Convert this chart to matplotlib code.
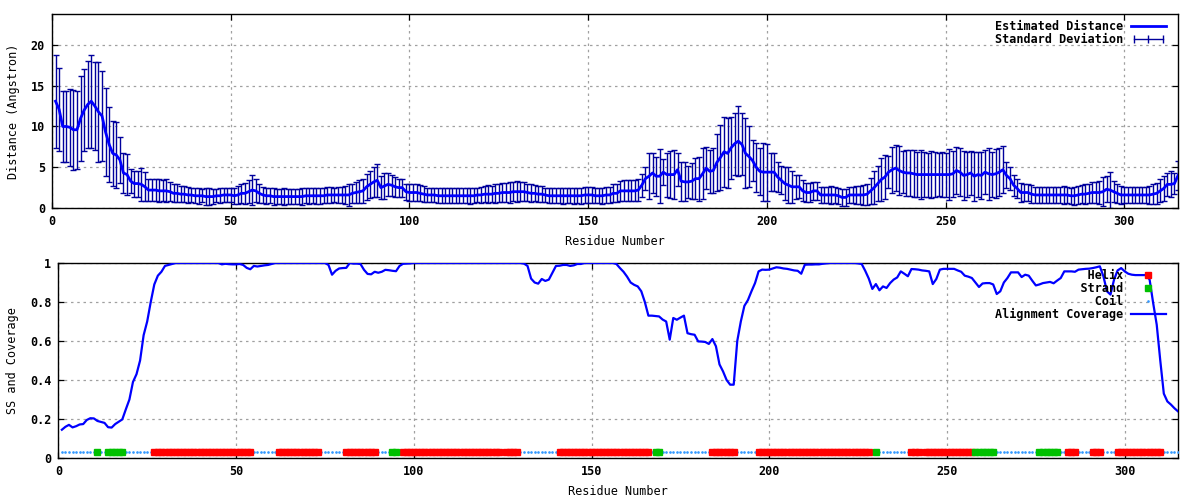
"""Distance estimate and secondary structure / alignment coverage per residue."""

import matplotlib
matplotlib.use("Agg")
import matplotlib.pyplot as plt
import numpy as np
from matplotlib.legend_handler import HandlerLine2D
from matplotlib.lines import Line2D
from matplotlib.ticker import FormatStrFormatter

# per-residue values, residues 1..315
distance = [
    13.1, 12.1, 10.0, 10.0, 9.9, 9.6, 9.6, 11.0, 12.0, 12.7,
    13.1, 12.5, 11.8, 11.3, 9.3, 7.8, 6.7, 6.5, 5.9, 4.3,
    4.1, 3.3, 3.0, 3.0, 2.9, 2.6, 2.2, 2.2, 2.2, 2.1,
    2.1, 2.1, 2.0, 1.8, 1.8, 1.7, 1.7, 1.6, 1.6, 1.5,
    1.5, 1.5, 1.4, 1.4, 1.4, 1.5, 1.5, 1.6, 1.6, 1.6,
    1.5, 1.6, 1.8, 1.8, 2.0, 2.2, 2.1, 1.8, 1.6, 1.5,
    1.5, 1.4, 1.4, 1.4, 1.4, 1.4, 1.4, 1.4, 1.4, 1.4,
    1.5, 1.5, 1.5, 1.5, 1.5, 1.5, 1.6, 1.6, 1.6, 1.6,
    1.6, 1.6, 1.6, 1.8, 1.9, 2.0, 2.1, 2.6, 2.9, 3.2,
    3.4, 2.5, 2.7, 2.9, 2.8, 2.6, 2.5, 2.5, 2.0, 1.9,
    1.9, 1.9, 1.8, 1.7, 1.6, 1.6, 1.6, 1.5, 1.5, 1.5,
    1.5, 1.5, 1.5, 1.5, 1.5, 1.5, 1.5, 1.5, 1.6, 1.6,
    1.7, 1.7, 1.7, 1.8, 1.8, 1.9, 1.9, 1.9, 2.0, 2.0,
    2.0, 2.0, 1.9, 1.8, 1.8, 1.7, 1.7, 1.6, 1.5, 1.5,
    1.5, 1.5, 1.5, 1.5, 1.5, 1.5, 1.5, 1.5, 1.6, 1.6,
    1.6, 1.5, 1.5, 1.5, 1.6, 1.6, 1.8, 1.8, 2.1, 2.1,
    2.1, 2.1, 2.1, 2.2, 2.8, 3.6, 3.9, 4.3, 3.9, 3.9,
    4.4, 4.1, 4.1, 4.1, 4.7, 3.3, 3.2, 3.2, 3.3, 3.6,
    3.6, 4.2, 4.9, 4.5, 4.6, 5.6, 6.2, 6.9, 6.7, 7.4,
    7.9, 8.2, 7.8, 6.7, 6.3, 5.8, 5.0, 4.5, 4.4, 4.4,
    4.4, 4.4, 3.8, 3.4, 3.0, 2.8, 2.6, 2.6, 2.6, 2.1,
    1.9, 1.9, 2.1, 2.1, 1.6, 1.6, 1.6, 1.6, 1.6, 1.5,
    1.3, 1.3, 1.6, 1.6, 1.6, 1.6, 1.6, 1.7, 2.1, 2.5,
    3.0, 3.5, 3.8, 4.4, 4.7, 4.9, 4.6, 4.4, 4.3, 4.3,
    4.2, 4.1, 4.1, 4.1, 4.1, 4.1, 4.1, 4.1, 4.1, 4.1,
    4.1, 4.2, 4.6, 4.4, 4.0, 4.1, 4.3, 3.9, 4.1, 4.0,
    4.4, 4.2, 4.1, 4.2, 4.4, 4.7, 4.0, 3.6, 2.8, 2.4,
    1.9, 1.9, 1.9, 1.7, 1.6, 1.6, 1.6, 1.6, 1.6, 1.6,
    1.6, 1.6, 1.6, 1.6, 1.5, 1.5, 1.6, 1.7, 1.7, 1.8,
    1.9, 1.9, 1.9, 2.0, 2.3, 2.2, 2.0, 1.8, 1.6, 1.6,
    1.6, 1.6, 1.6, 1.6, 1.6, 1.6, 1.6, 1.7, 1.8, 2.1,
    2.4, 2.9, 2.9, 3.0, 4.0,
]

std_dev = [
    5.7, 5.1, 4.4, 4.4, 4.7, 4.9, 4.8, 5.2, 5.0, 5.3,
    5.7, 5.4, 6.1, 5.5, 5.4, 4.6, 4.0, 4.1, 2.8, 2.4,
    2.5, 1.5, 1.6, 1.6, 2.0, 1.8, 1.4, 1.3, 1.3, 1.4,
    1.3, 1.4, 1.2, 1.1, 1.1, 1.0, 1.0, 1.0, 0.9, 0.9,
    1.0, 0.8, 1.0, 1.0, 0.9, 0.8, 0.9, 0.9, 0.9, 0.9,
    1.0, 1.1, 1.2, 1.3, 1.4, 1.8, 1.4, 1.2, 1.0, 1.0,
    0.9, 1.0, 0.9, 0.9, 1.0, 0.9, 0.9, 0.9, 0.9, 1.0,
    0.9, 1.0, 0.9, 1.0, 1.0, 0.9, 1.0, 1.0, 0.9, 1.0,
    1.0, 1.1, 1.3, 1.2, 1.3, 1.4, 1.5, 1.6, 1.7, 1.8,
    2.0, 1.4, 1.6, 1.4, 1.3, 1.2, 1.1, 1.1, 1.0, 1.0,
    1.1, 1.0, 1.0, 1.0, 0.9, 0.9, 0.9, 0.9, 0.9, 0.9,
    0.9, 0.9, 0.9, 0.9, 0.9, 0.9, 1.0, 0.9, 0.9, 1.0,
    1.0, 1.1, 1.0, 1.2, 1.1, 1.2, 1.2, 1.3, 1.2, 1.3,
    1.2, 1.2, 1.1, 1.1, 1.0, 1.0, 1.0, 0.9, 0.9, 0.9,
    0.9, 0.9, 1.0, 0.9, 0.9, 1.0, 0.9, 1.0, 1.0, 1.0,
    1.0, 0.9, 0.9, 1.0, 1.0, 1.0, 1.1, 1.1, 1.2, 1.3,
    1.3, 1.3, 1.3, 1.3, 1.4, 1.4, 2.8, 2.4, 2.4, 3.3,
    1.6, 2.7, 2.9, 3.0, 2.0, 2.4, 2.4, 2.0, 2.2, 2.5,
    2.7, 3.1, 2.6, 2.6, 2.8, 3.5, 4.0, 4.3, 4.3, 3.8,
    3.8, 4.3, 3.8, 4.3, 3.7, 2.5, 3.0, 2.9, 3.6, 3.5,
    2.3, 2.3, 1.8, 1.7, 2.0, 2.2, 2.0, 1.5, 1.4, 1.3,
    1.2, 1.2, 1.1, 1.1, 1.0, 1.0, 1.0, 1.1, 1.0, 1.0,
    1.0, 1.0, 1.0, 1.0, 1.1, 1.1, 1.2, 1.3, 1.6, 2.0,
    2.2, 2.6, 2.7, 2.0, 2.8, 2.8, 3.0, 2.6, 2.8, 2.8,
    2.9, 2.8, 3.0, 2.8, 2.7, 2.9, 2.8, 2.6, 2.8, 2.7,
    3.1, 2.8, 2.9, 2.9, 3.0, 2.8, 2.7, 3.0, 2.8, 2.9,
    2.7, 3.2, 2.8, 3.0, 2.9, 2.9, 1.6, 1.4, 1.3, 1.2,
    1.2, 1.1, 1.1, 1.1, 1.0, 1.0, 1.0, 1.0, 1.0, 1.0,
    1.0, 1.0, 1.1, 1.0, 1.0, 1.1, 1.1, 1.1, 1.2, 1.2,
    1.3, 1.3, 1.4, 1.8, 1.6, 2.2, 1.3, 1.2, 1.1, 1.0,
    1.0, 1.0, 1.0, 1.0, 1.0, 1.0, 1.1, 1.2, 1.3, 1.4,
    1.5, 1.4, 1.6, 1.3, 1.8,
]

coverage = [
    0.145, 0.16, 0.17, 0.157, 0.163, 0.172, 0.174, 0.195, 0.204, 0.203,
    0.19, 0.185, 0.18, 0.158, 0.156, 0.174, 0.186, 0.198, 0.25, 0.3,
    0.39, 0.43, 0.5, 0.63, 0.7, 0.8, 0.89, 0.935, 0.955, 0.985,
    0.99, 0.995, 1.0, 1.0, 1.0, 1.0, 1.0, 1.0, 1.0, 1.0,
    1.0, 1.0, 1.0, 1.0, 1.0, 0.993, 0.996, 0.994, 0.993, 0.993,
    0.995, 0.99, 0.975, 0.968, 0.985, 0.982, 0.985, 0.988, 0.99, 0.995,
    1.0, 1.0, 1.0, 1.0, 1.0, 1.0, 1.0, 1.0, 1.0, 1.0,
    1.0, 1.0, 1.0, 1.0, 1.0, 0.99, 0.94, 0.96, 0.972, 0.974,
    0.975, 1.0, 0.997, 0.997, 0.995, 0.965, 0.944, 0.942, 0.955, 0.95,
    0.955, 0.965, 0.963, 0.96, 0.958, 0.985, 0.996, 0.997, 0.998, 1.0,
    1.0, 1.0, 1.0, 1.0, 1.0, 1.0, 1.0, 1.0, 1.0, 1.0,
    1.0, 1.0, 1.0, 1.0, 1.0, 1.0, 1.0, 1.0, 1.0, 1.0,
    1.0, 1.0, 1.0, 1.0, 1.0, 1.0, 1.0, 1.0, 1.0, 1.0,
    0.997, 0.985, 0.92, 0.9, 0.894, 0.918, 0.908, 0.915, 0.95, 0.985,
    0.986, 0.99, 0.99, 0.985, 0.988, 0.995, 0.995, 1.0, 1.0, 1.0,
    1.0, 1.0, 1.0, 1.0, 1.0, 1.0, 0.995, 0.974, 0.955, 0.93,
    0.9, 0.888, 0.88, 0.855, 0.8, 0.73, 0.73, 0.728, 0.726, 0.71,
    0.7, 0.607, 0.718, 0.709, 0.72, 0.73, 0.64, 0.635, 0.632, 0.598,
    0.597, 0.595, 0.585, 0.61, 0.573, 0.48, 0.444, 0.40, 0.376, 0.376,
    0.6, 0.70, 0.78, 0.81, 0.855, 0.897, 0.957, 0.966, 0.965, 0.966,
    0.972, 0.978, 0.976, 0.972, 0.97, 0.966, 0.962, 0.96, 0.945, 0.991,
    0.992, 0.992, 0.993, 0.993, 0.996, 0.998, 1.0, 1.0, 1.0, 1.0,
    1.0, 1.0, 1.0, 1.0, 0.998, 0.995, 0.96, 0.92, 0.867, 0.892,
    0.86, 0.88, 0.872, 0.897, 0.915, 0.926, 0.957, 0.945, 0.932, 0.969,
    0.968, 0.966, 0.962, 0.96, 0.957, 0.892, 0.918, 0.966, 0.97, 0.97,
    0.97, 0.97, 0.962, 0.955, 0.935, 0.93, 0.923, 0.9, 0.877, 0.895,
    0.897, 0.897, 0.89, 0.841, 0.855, 0.9, 0.923, 0.952, 0.952, 0.952,
    0.928, 0.94, 0.935, 0.909, 0.885, 0.89, 0.897, 0.9, 0.903, 0.896,
    0.91, 0.923, 0.957, 0.957, 0.957, 0.955, 0.966, 0.968, 0.97, 0.971,
    0.974, 0.978, 0.983, 0.932, 0.855, 0.838, 0.915, 0.962, 0.974, 0.957,
    0.945, 0.94, 0.938, 0.938, 0.938, 0.938, 0.915, 0.795, 0.684, 0.5,
    0.33, 0.29, 0.274, 0.255, 0.239,
]

# secondary structure segments (first, last residue)
helix_segments = [
    (27, 54), (62, 73), (81, 89), (97, 124), (126, 129), (141, 166),
    (184, 190), (197, 228), (240, 242), (244, 257), (284, 286),
    (291, 293), (298, 310),
]
strand_segments = [
    (11, 11), (14, 18), (94, 95), (168, 169), (230, 230), (258, 263),
    (276, 281),
]

ss_level = 0.03

residues = np.arange(1, len(distance) + 1)
assert len(std_dev) == len(residues) and len(coverage) == len(residues)

ss = np.array(["C"] * len(residues))
for a, b in helix_segments:
    ss[a - 1:b] = "H"
for a, b in strand_segments:
    ss[a - 1:b] = "E"

plt.rcParams["font.family"] = "DejaVu Sans Mono"
plt.rcParams["font.weight"] = "bold"
plt.rcParams["font.size"] = 8.5

GRID = dict(color="#a0a0a0", linestyle=(0, (2, 3)), linewidth=0.9)


def style_axes(ax):
    ax.tick_params(direction="in", top=True, right=True, length=4.5,
                   width=0.9, pad=5, labelsize=8.5)
    for s in ax.spines.values():
        s.set_linewidth(1.0)
    ax.grid(True, **GRID)
    ax.set_axisbelow(True)
    ax.set_xticks(np.arange(0, 301, 50))


def rjust_labels(labels):
    # monospace font, so padding on the left gives gnuplot-style right-aligned keys
    width = max(len(s) for s in labels)
    return [s.rjust(width) for s in labels]


fig = plt.figure(figsize=(12, 5), dpi=100)
ax1 = fig.add_axes([0.0433, 0.584, 0.9384, 0.388])
ax2 = fig.add_axes([0.0486, 0.084, 0.9331, 0.390])

# top panel
ax1.errorbar(residues, distance, yerr=std_dev, fmt="none", ecolor="#00009c",
             elinewidth=1.0, capsize=2.3, capthick=1.0, zorder=2)
ax1.plot(residues, distance, color="#0000ff", linewidth=2.0, zorder=3)
ax1.set_xlim(0, 315)
ax1.set_ylim(0, 23.8)
ax1.set_yticks([0, 5, 10, 15, 20])
style_axes(ax1)
ax1.set_xlabel("Residue Number", labelpad=5)
ax1.set_ylabel("Distance (Angstron)", labelpad=8)

h_dist = Line2D([], [], color="#0000ff", linewidth=2.0)
h_std = Line2D([], [], color="#00009c", linewidth=1.0, marker="|",
               markersize=6, markeredgewidth=1.0)
ax1.legend([h_dist, h_std],
           rjust_labels(["Estimated Distance", "Standard Deviation"]),
           loc="upper right", bbox_to_anchor=(0.9946, 1.0),
           frameon=False, markerfirst=False,
           handlelength=3.0, handletextpad=0.6, labelspacing=0.0,
           borderaxespad=0.3, borderpad=0.2,
           handler_map={h_std: HandlerLine2D(numpoints=3)})

# bottom panel
is_h = ss == "H"
is_e = ss == "E"
is_c = ss == "C"
h_coil, = ax2.plot(residues[is_c], np.full(is_c.sum(), ss_level),
                   linestyle="none", marker="o", markersize=0.9,
                   color="#3399ff", zorder=3)
h_helix, = ax2.plot(residues[is_h], np.full(is_h.sum(), ss_level),
                    linestyle="none", marker="s", markersize=3.8,
                    color="#ff0000", zorder=3)
h_strand, = ax2.plot(residues[is_e], np.full(is_e.sum(), ss_level),
                     linestyle="none", marker="s", markersize=5.0,
                     color="#00c000", zorder=3)
h_cov, = ax2.plot(residues, coverage, color="#0000ff", linewidth=1.6, zorder=4)
ax2.set_xlim(0, 315)
ax2.set_ylim(0, 1)
ax2.set_yticks(np.arange(0, 1.01, 0.2))
ax2.yaxis.set_major_formatter(FormatStrFormatter("%g"))
style_axes(ax2)
ax2.set_xlabel("Residue Number", labelpad=5)
ax2.set_ylabel("SS and Coverage", labelpad=8)

ax2.legend([h_helix, h_strand, h_coil, h_cov],
           rjust_labels(["Helix", "Strand", "Coil", "Alignment Coverage"]),
           loc="upper right", bbox_to_anchor=(0.9946, 1.0),
           frameon=False, markerfirst=False,
           handlelength=3.0, handletextpad=0.6, labelspacing=0.0,
           borderaxespad=0.3, borderpad=0.2, numpoints=1)

fig.savefig("out.png", dpi=100)
